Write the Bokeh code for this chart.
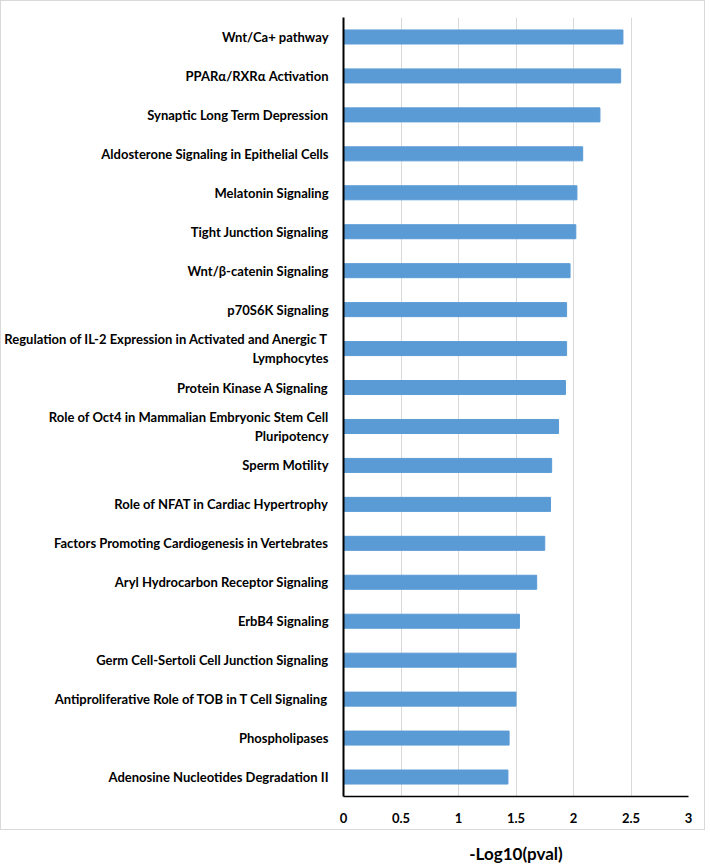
from bokeh.plotting import figure
from bokeh.models import FactorRange, Div, FixedTicker
from bokeh.layouts import column
from bokeh.embed import file_html
from bokeh.resources import INLINE

pathways = [
    "Wnt/Ca+ pathway",
    "PPARα/RXRα Activation",
    "Synaptic Long Term Depression",
    "Aldosterone Signaling in Epithelial Cells",
    "Melatonin Signaling",
    "Tight Junction Signaling",
    "Wnt/β-catenin Signaling",
    "p70S6K Signaling",
    "Regulation of IL-2 Expression in Activated and Anergic T\nLymphocytes",
    "Protein Kinase A Signaling",
    "Role of Oct4 in Mammalian Embryonic Stem Cell\nPluripotency",
    "Sperm Motility",
    "Role of NFAT in Cardiac Hypertrophy",
    "Factors Promoting Cardiogenesis in Vertebrates",
    "Aryl Hydrocarbon Receptor Signaling",
    "ErbB4 Signaling",
    "Germ Cell-Sertoli Cell Junction Signaling",
    "Antiproliferative Role of TOB in T Cell Signaling",
    "Phospholipases",
    "Adenosine Nucleotides Degradation II",
]
neg_log_p = [2.43, 2.41, 2.23, 2.08, 2.03, 2.02, 1.97, 1.94, 1.94, 1.93,
             1.87, 1.81, 1.80, 1.75, 1.68, 1.53, 1.50, 1.50, 1.44, 1.43]
x_ticks = [0, 0.5, 1, 1.5, 2, 2.5, 3]
x_title = "-Log10(pval)"

FONT = "Lato"

p = figure(
    width=705, height=830,
    y_range=FactorRange(*list(reversed(pathways))),
    x_range=(0, 3),
    output_backend="svg", toolbar_location=None,
    min_border_left=342, min_border_right=18,
    min_border_top=16, min_border_bottom=35,
)
p.styles = {"border": "1px solid #d9d9d9"}
p.outline_line_color = None

p.hbar(y=pathways, right=neg_log_p, height=0.36, color="#5b9bd5")

p.xgrid.grid_line_color = "#d9d9d9"
p.xgrid.grid_line_width = 1
p.ygrid.grid_line_color = None

p.xaxis.ticker = FixedTicker(ticks=x_ticks)
p.xaxis.major_label_overrides = {0: "0", 1: "1", 2: "2", 3: "3"}
for ax in (p.xaxis, p.yaxis):
    ax.major_tick_line_color = None
    ax.minor_tick_line_color = None
    ax.axis_line_color = "#000000"
    ax.major_label_text_font = FONT
    ax.major_label_text_font_style = "bold"
    ax.major_label_text_font_size = "13px"
    ax.major_label_text_color = "#000000"
p.xaxis.axis_line_width = 1.5
p.yaxis.axis_line_width = 2
p.xaxis.major_label_standoff = 10
p.yaxis.major_label_standoff = 9

title = Div(
    text=x_title, width=706, height=31,
    styles={"font-family": FONT, "font-weight": "bold", "font-size": "17px",
            "line-height": "20px", "text-align": "center", "width": "706px",
            "box-sizing": "border-box", "padding-left": "316px",
            "padding-top": "9px", "color": "#000000"},
)

layout = column(p, title, spacing=0)
open("out.html", "w").write(file_html(layout, INLINE))
